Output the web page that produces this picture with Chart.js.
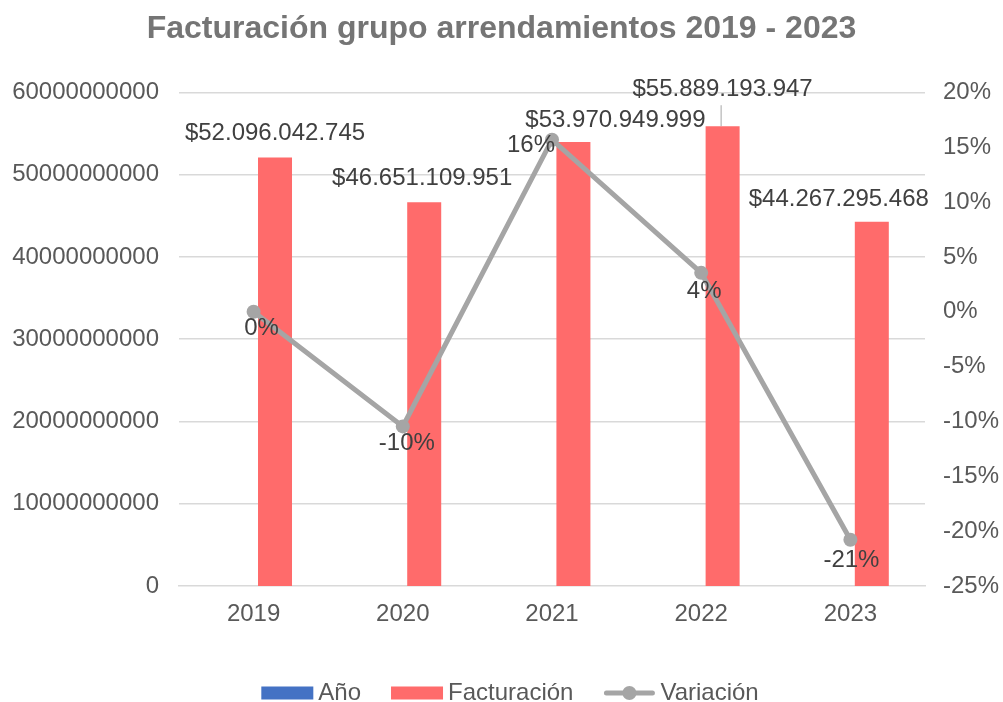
<!DOCTYPE html>
<html>
<head>
<meta charset="utf-8">
<script src="https://cdn.jsdelivr.net/npm/chart.js@4.4.1/dist/chart.umd.min.js"></script>
<style>
  html, body { margin: 0; padding: 0; background: #fff; }
  #wrap { width: 1003px; height: 702px; }
</style>
</head>
<body>
<div id="wrap"><canvas id="chart" width="1003" height="702"></canvas></div>
<script>
const anios = ['2019', '2020', '2021', '2022', '2023'];
const serieAnio = [2019, 2020, 2021, 2022, 2023];
const facturacion = [52096042745, 46651109951, 53970949999, 55889193947, 44267295468];
const variacion = [0, -10.45, 15.69, 3.55, -20.79];

const FUENTE = '"Liberation Sans", Arial, sans-serif';
const ROJO = '#FF6B6B';
const GRIS = '#A5A5A5';
const AZUL = '#4472C4';

// desplazamientos de etiquetas (como en el original, algunas movidas a mano)
const factDx = [0, -2, 42, 0, -33];
const factDy = [-24, -24, -22, -37, -22];
const pctDx = [8, 4, -21, 3, 1];
const pctDy = [17, 17, 6, 19, 21];

function formatoPesos(v) {
    return '$' + String(v).replace(/\B(?=(\d{3})+(?!\d))/g, '.');
}

const etiquetas = {
    id: 'etiquetas',
    afterDatasetsDraw(chart) {
        const ctx = chart.ctx;
        const barras = chart.getDatasetMeta(1).data;
        const puntos = chart.getDatasetMeta(2).data;
        ctx.save();
        ctx.font = '24px ' + FUENTE;
        ctx.fillStyle = '#404040';
        ctx.textAlign = 'center';
        ctx.textBaseline = 'middle';
        barras.forEach((b, i) => {
            ctx.fillText(formatoPesos(facturacion[i]), b.x + factDx[i], b.y + factDy[i]);
        });
        // linea guia de la etiqueta 2022
        const b3 = barras[3];
        ctx.strokeStyle = '#A6A6A6';
        ctx.lineWidth = 1;
        ctx.beginPath();
        ctx.moveTo(b3.x - 1.5, b3.y + factDy[3] + 16);
        ctx.lineTo(b3.x - 1.5, b3.y);
        ctx.stroke();
        puntos.forEach((p, i) => {
            ctx.fillText(Math.round(variacion[i]) + '%', p.x + pctDx[i], p.y + pctDy[i]);
        });
        ctx.restore();
    }
};

const leyenda = {
    id: 'leyenda',
    afterDraw(chart) {
        const ctx = chart.ctx;
        ctx.save();
        ctx.font = '24px ' + FUENTE;
        ctx.textBaseline = 'middle';
        ctx.textAlign = 'left';
        const items = chart.data.datasets.map(d => ({ label: d.label, tipo: d.type || 'bar', color: d.backgroundColor }));
        const caja = 52, sep = 5, hueco = 30;
        let total = 0;
        items.forEach(it => { it.w = caja + sep + ctx.measureText(it.label).width; total += it.w; });
        total += hueco * (items.length - 1);
        let x = 510 - total / 2;
        const y = 693;
        items.forEach(it => {
            if (it.tipo === 'line') {
                ctx.strokeStyle = GRIS;
                ctx.lineWidth = 5;
                ctx.lineCap = 'round';
                ctx.beginPath();
                ctx.moveTo(x + 3, y);
                ctx.lineTo(x + caja - 3, y);
                ctx.stroke();
                ctx.fillStyle = GRIS;
                ctx.beginPath();
                ctx.arc(x + caja / 2, y, 7, 0, Math.PI * 2);
                ctx.fill();
            } else {
                ctx.fillStyle = it.color;
                ctx.fillRect(x, y - 6.5, caja, 13);
            }
            ctx.fillStyle = '#595959';
            ctx.fillText(it.label, x + caja + sep, y);
            x += it.w + hueco;
        });
        ctx.restore();
    }
};

new Chart(document.getElementById('chart').getContext('2d'), {
    type: 'bar',
    data: {
        labels: anios,
        datasets: [
            {
                label: 'Año',
                data: serieAnio,
                backgroundColor: AZUL,
                yAxisID: 'y',
                order: 1,
                inflateAmount: 0,
                categoryPercentage: 0.574,
                barPercentage: 0.794
            },
            {
                label: 'Facturación',
                data: facturacion,
                backgroundColor: ROJO,
                yAxisID: 'y',
                order: 2,
                categoryPercentage: 0.574,
                barPercentage: 0.794
            },
            {
                type: 'line',
                label: 'Variación',
                data: variacion,
                borderColor: GRIS,
                backgroundColor: GRIS,
                borderWidth: 5,
                pointRadius: 7,
                pointHoverRadius: 7,
                pointBackgroundColor: GRIS,
                pointBorderWidth: 0,
                tension: 0,
                yAxisID: 'y1',
                order: 0
            }
        ]
    },
    options: {
        responsive: false,
        animation: false,
        layout: { padding: 0 },
        plugins: {
            legend: { display: false },
            tooltip: { enabled: false },
            title: {
                display: true,
                text: 'Facturación grupo arrendamientos 2019 - 2023',
                color: '#757575',
                font: { family: FUENTE, size: 32, weight: 'bold' },
                padding: { top: 10, bottom: 44 }
            }
        },
        scales: {
            x: {
                grid: { display: false, drawTicks: false },
                border: { display: true, color: '#D9D9D9', width: 1.5 },
                ticks: { color: '#595959', font: { family: FUENTE, size: 24 }, padding: 14 },
                afterFit: s => { s.height = 116; }
            },
            y: {
                position: 'left',
                min: 0,
                max: 60000000000,
                ticks: {
                    stepSize: 10000000000,
                    color: '#595959',
                    font: { family: FUENTE, size: 24 },
                    padding: 20,
                    callback: v => String(v)
                },
                grid: {
                    color: '#D9D9D9',
                    lineWidth: c => (c.tick && c.tick.value === 0 ? 0 : 1.5),
                    drawTicks: false
                },
                border: { display: false },
                afterFit: s => { s.width = 179; }
            },
            y1: {
                position: 'right',
                min: -25,
                max: 20,
                ticks: {
                    stepSize: 5,
                    color: '#595959',
                    font: { family: FUENTE, size: 24 },
                    padding: 18,
                    callback: v => Math.round(v) + '%'
                },
                grid: { drawOnChartArea: false, drawTicks: false },
                border: { display: false },
                afterFit: s => { s.width = 78; }
            }
        }
    },
    plugins: [etiquetas, leyenda]
});
</script>
</body>
</html>
